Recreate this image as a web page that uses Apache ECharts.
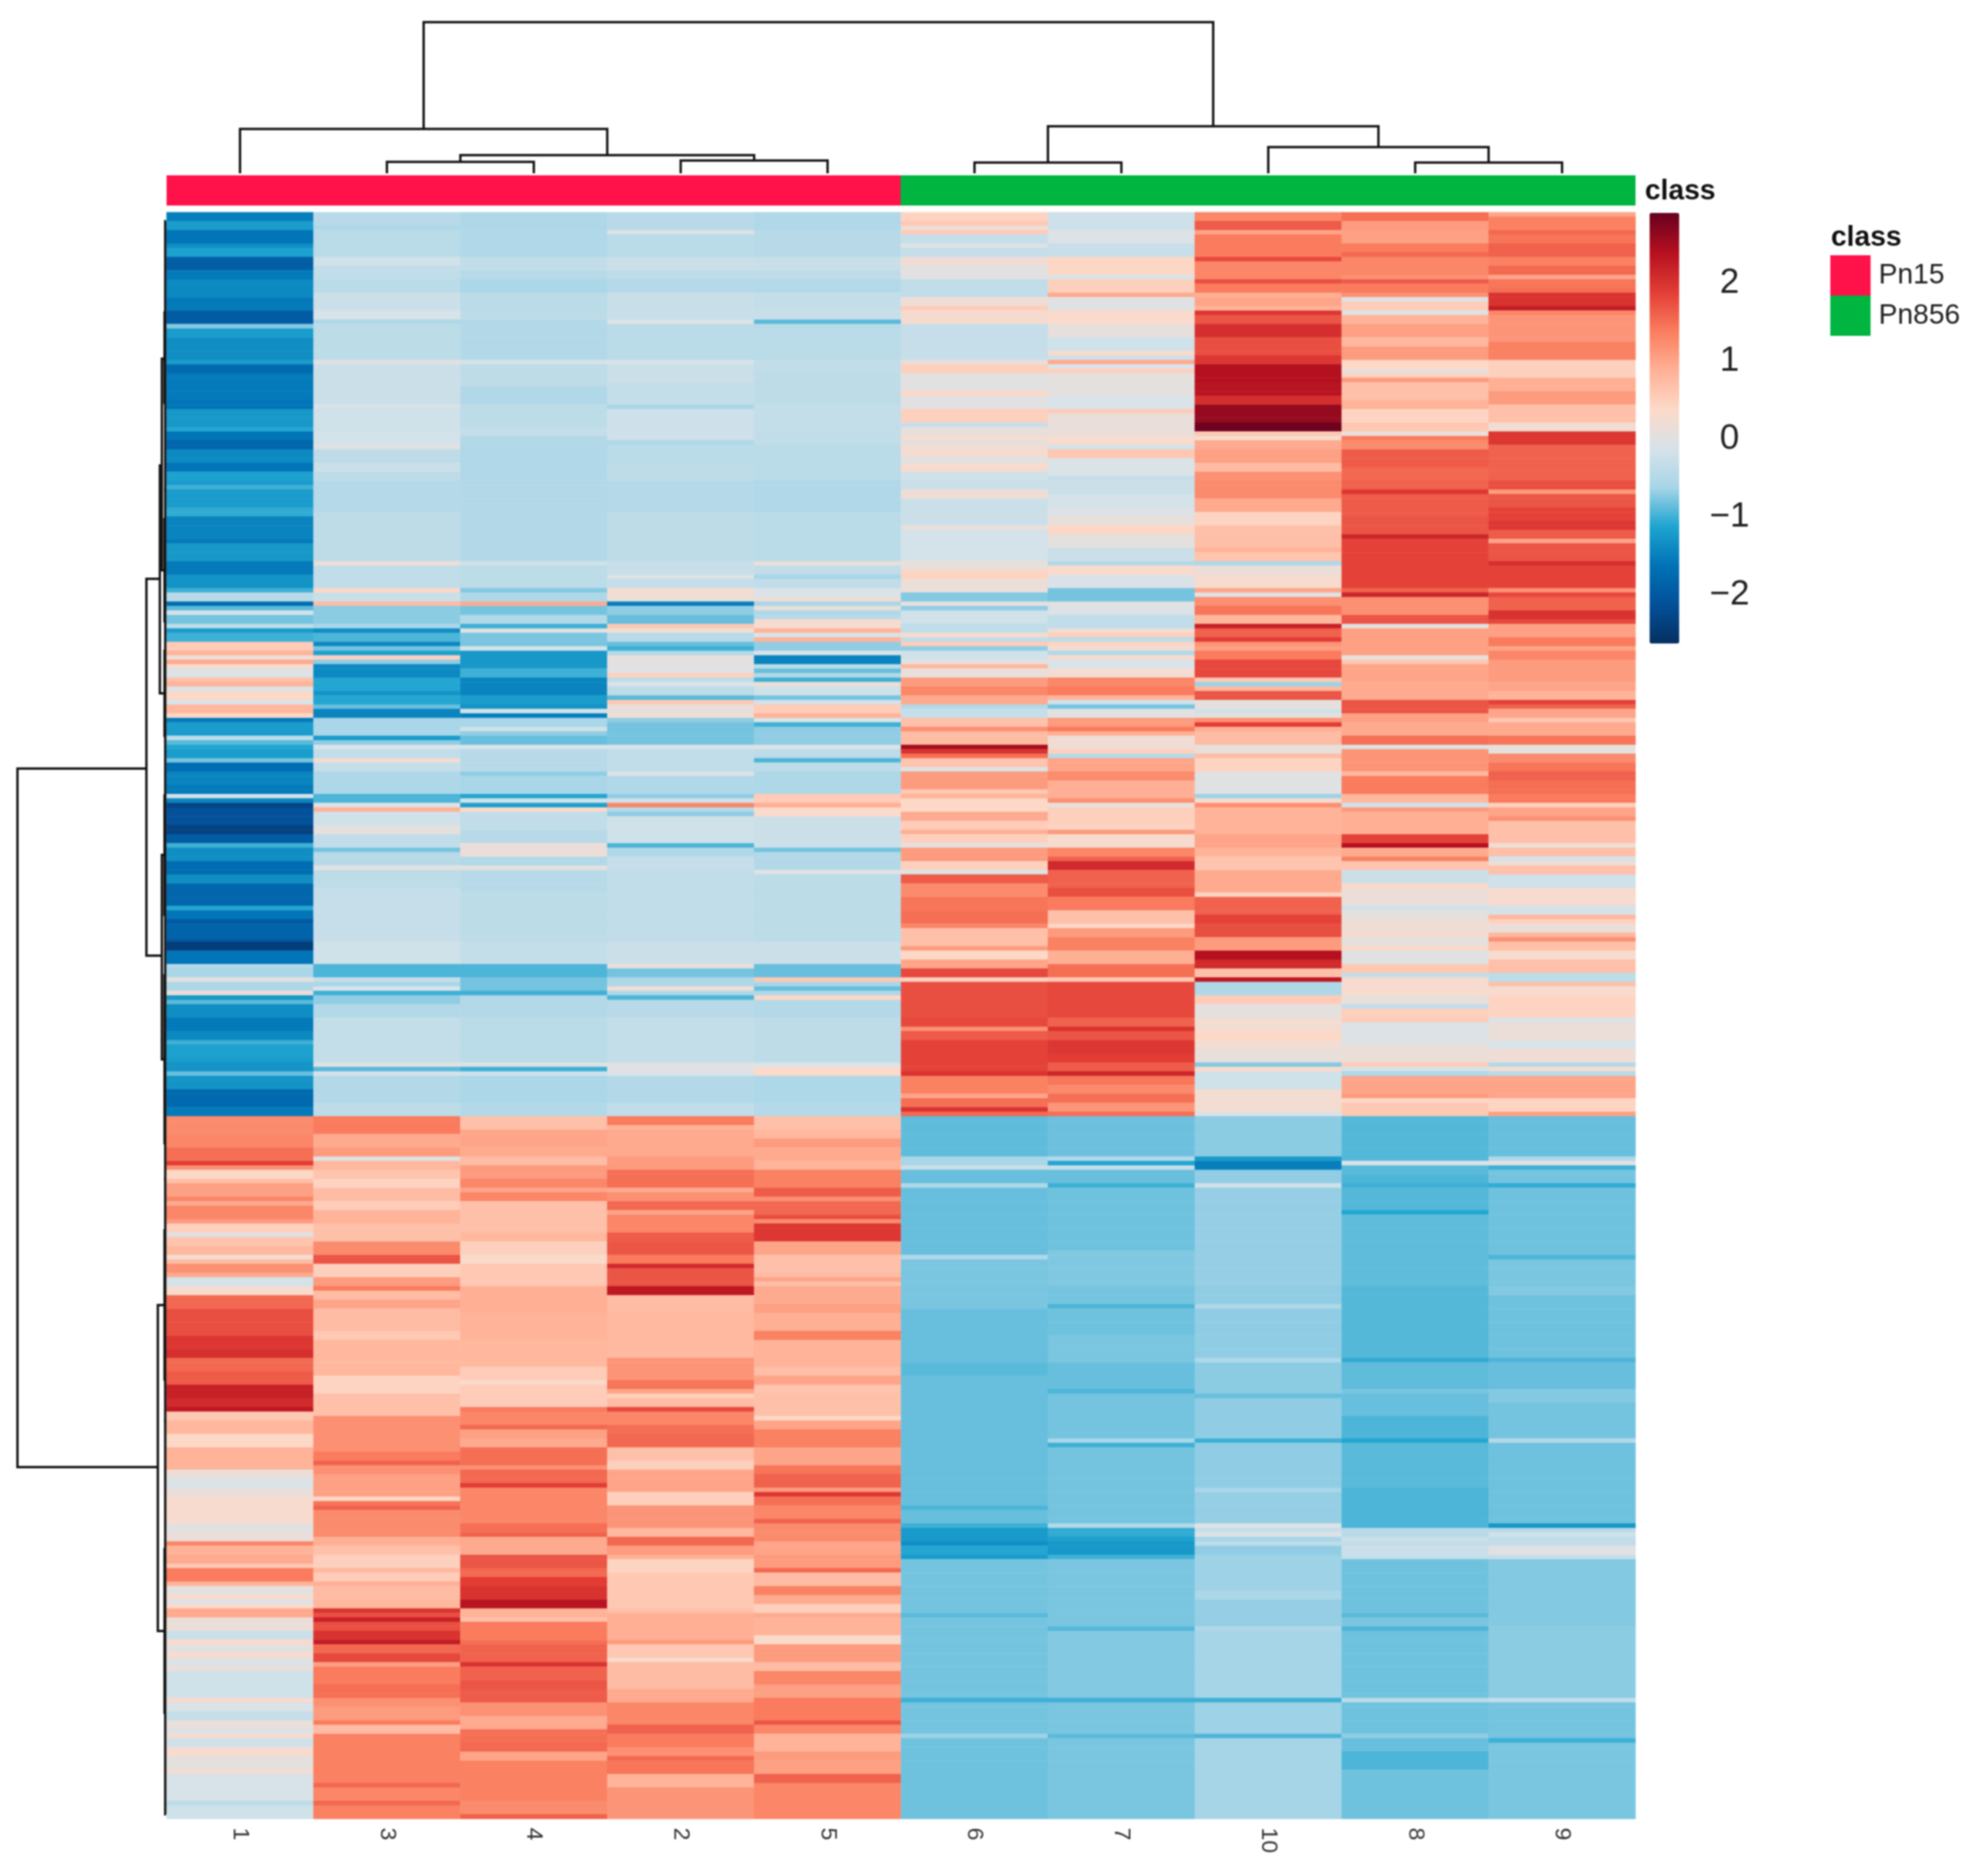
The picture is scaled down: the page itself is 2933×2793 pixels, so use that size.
<!DOCTYPE html>
<html><head><meta charset="utf-8">
<script src="https://cdn.jsdelivr.net/npm/echarts@6/dist/echarts.min.js"></script>
<style>html,body{margin:0;padding:0;background:#fff}#c{width:2933px;height:2793px;filter:blur(1px)}</style>
</head><body><div id="c"></div>
<script>
// Column order and class of each column, as drawn left to right
const columnLabels = ['1','3','4','2','5','6','7','10','8','9'];
const classPn15  = [1,1,1,1,1,null,null,null,null,null];
const classPn856 = [null,null,null,null,null,1,1,1,1,1];
const colorbarTicks = [-2,-1,0,1,2];

// Each column: six blocks of rows; each block is a flat list end-row,value,end-row,value...
const s1 = [
[2,-1.5,4,-1.2,7,-1.6,8,-1.35,10,-1.15,13,-1.9,15,-1.55,19,-1.4,22,-1.55,25,-1.95,26,-.75,28,-1.2,33,-1.35,34,-1.2,36,-1.75,42,-1.55,44,-1.6,48,-1.25,49,-1.1,51,-1.6,53,-1.8,56,-1.4,58,-1.6,60,-1.15],
[1,-1.2,2,-1,6,-1.2,8,-1.05,13,-1.45,14,-1.55,18,-1.25,21,-1.55,24,-1.3,25,-1,27,-.45,28,-1.7,29,-.9,30,-.15,32,-.8,33,-.4,34,-1.2,36,-1,38,.55,39,.85,40,.15,41,.95,42,.3,44,-.05,45,.7,46,.85,47,-.1,49,.4,50,-.1,52,.8,53,.4,54,-1.55,57,-1.2,58,-.4,59,-.9,60,-1.1],
[2,-1.2,3,-.8,5,-1.7,8,-1.45,10,-1.55,11,-.2,12,-1.45,13,-2.3,17,-2.1,19,-2.35,21,-1.95,22,-1,25,-1.35,28,-1.7,30,-1.35,35,-1.8,36,-1.1,38,-1.6,39,-2,42,-1.85,43,-1.95,45,-2.4,48,-1.6,49,-.5,51,-.6,52,.05,54,-.55,55,.15,56,-1.25,57,-.9,60,-1.35],
[3,-1.55,5,-1.4,6,-1,9,-1.15,10,-1.2,12,-1.3,13,-.85,16,-1.3,20,-1.75,22,-1.55,26,1.25,29,1.3,32,1.5,33,1.9,34,1.2,36,.4,37,.7,40,1.05,41,1.3,42,.95,45,1.3,46,1.1,48,.5,49,-.03,51,.65,53,.8,54,.25,55,.75,57,1.2,58,.95,60,-.15],
[2,.3,5,1.55,11,1.75,14,1.95,16,2.05,19,1.55,22,1.65,25,2.2,27,2.1,28,2.3,30,.6,33,.8,36,.4,41,.85,43,.15,45,-.1,47,.1,53,.3,55,.02,57,.15,58,1.3,60,.85],
[2,.95,3,.6,6,1.4,7,.85,9,.05,10,.3,11,-.02,12,.35,14,.95,17,.15,19,-.25,20,.35,22,.05,23,.35,25,-.05,26,.15,32,-.2,33,.3,35,-.1,37,-.3,39,.1,40,-.05,41,.3,43,-.2,45,.3,48,.05,49,.25,55,-.12,56,-.38,60,-.2]];
const s3 = [
[3,-.45,4,-.55,10,-.42,12,-.2,15,-.35,18,-.42,22,-.25,24,-.13,25,-.55,33,-.4,34,0,43,-.25,44,-.08,49,-.2,52,-.15,53,0,56,-.38,58,-.25,60,-.38],
[7,-.48,18,-.38,19,.15,24,-.35,25,.4,27,-.25,28,.75,32,-.72,33,-.6,34,-1.35,36,-.95,37,-1.4,38,-.8,39,-1.15,40,.5,41,-.7,44,-1.4,47,-1.1,48,-1.3,50,-1.1,51,-.85,53,-1.45,57,-.6,58,-1.2,59,-.7,60,-.1],
[2,-.35,3,.25,5,-.3,10,-.55,12,-.95,13,-.05,14,.85,17,-.2,19,.05,22,-.35,23,-.8,26,-.45,27,0,31,-.4,43,-.3,48,-.2,51,-.95,52,-.3,53,-.6,54,-.1,55,-1,57,-.7,60,-.5],
[10,-.32,11,-.02,12,-.9,13,-.15,19,-.5,22,-.4,26,1.4,29,.95,31,1.1,32,0,34,.8,36,.65,38,.45,41,.75,43,.55,46,.85,50,.7,53,1.25,55,1.7,58,.5,60,1.1],
[1,1.4,3,.75,5,1,10,.75,12,.6,20,.8,24,.45,29,.7,37,1.2,39,1.4,40,1.6,42,1.2,47,1.05,48,.4,49,1.45,50,1.6,56,1.25,58,.9,60,.7],
[3,.5,4,.8,6,.55,7,.9,10,.75,12,.8,13,2,14,1.75,15,2.2,17,1.75,19,2,20,2.25,22,1.55,24,1.8,25,1.05,29,1.4,32,1.5,34,1.2,37,1.1,38,1.4,40,.75,51,1.35,52,1.55,55,1.3,56,1.55,60,1.35]];
const s4 = [
[4,-.55,10,-.52,13,-.35,15,-.45,18,-.58,22,-.42,24,-.38,33,-.5,34,-.15,39,-.38,43,-.52,48,-.4,50,-.32,52,-.5,60,-.52],
[18,-.5,19,-.2,24,-.4,25,-.75,27,-.55,28,.95,30,-.8,32,-.5,33,-1,34,0,37,-.78,38,-.15,42,-1.25,44,-1,48,-1.45,50,-1.2,51,-1.3,52,-.2,53,-1.5,55,-.6,56,-.2,57,-.7,59,-.85,60,-.1],
[5,-.45,6,-.7,10,-.6,11,-1.1,12,-.2,13,-1.15,14,.4,18,-.35,21,-.45,22,.15,24,.15,26,-.5,27,.05,32,-.45,43,-.4,48,-.32,51,-.95,54,-.8,55,-1,60,-.5],
[10,-.42,11,-.02,12,-1,13,-.2,19,-.58,22,-.5,25,.7,29,1,31,.95,33,.75,36,1.1,38,1.3,39,1,41,1.3,48,.7,50,.8,53,.5,55,.35,60,.6],
[6,.9,12,.85,18,.8,21,.55,22,.35,27,.55,28,1.4,31,1.3,32,1.55,34,1.05,36,.95,40,1.5,41,1.2,44,1.55,45,1.9,53,1.3,55,1.5,56,1.6,60,.95],
[3,1.7,5,1.55,7,1.9,10,2,12,2.35,14,.85,15,.7,19,1.4,20,1.5,24,1.6,25,2,28,1.6,30,1.7,33,1.65,36,1.2,39,.95,42,1.5,44,1.55,46,1,55,1.35,58,1.25,60,1.6]];
const s2 = [
[4,-.45,5,-.05,10,-.42,13,-.25,15,-.38,18,-.48,24,-.28,25,-.05,33,-.42,34,-.12,38,-.25,43,-.32,44,-.6,51,-.22,52,-.55,56,-.42,60,-.38],
[7,-.48,18,-.38,21,-.28,22,-.05,24,-.3,26,.25,27,.1,28,-1.5,30,-.7,32,-.85,33,.6,34,.2,36,-.45,37,-.85,38,-1,39,-.5,41,.05,43,0,44,.5,45,-.4,46,-.1,48,-.4,49,-.9,50,.6,52,.1,53,.2,54,-.7,59,-.8,60,-.1],
[5,-.35,6,-.05,10,-.52,11,-.7,12,-.2,13,1.3,14,-.5,15,-.7,21,-.2,22,-.95,24,-.55,27,-.3,43,-.35,48,-.25,49,.1,51,-.8,53,-.55,54,.2,55,-.55,56,-.95,60,-.45],
[10,-.32,12,0,13,-.08,19,-.5,22,-.35,24,1.4,25,.85,31,.95,34,1.1,38,1.5,39,.95,41,1.2,43,1.55,44,1,48,1.3,50,1.65,53,1.7,55,1.4,56,2.1,60,1.7],
[2,2.3,6,.75,16,.78,21,1.15,23,1.45,24,1,25,.5,27,.75,28,1.8,31,1.3,33,1.5,36,1.55,39,.7,41,.5,46,1,49,.5,54,1.15,56,.8,58,1.55,60,1.1],
[1,.9,4,.45,12,.6,13,.7,19,.9,20,1.1,23,.6,24,.35,30,.75,33,.95,38,1.3,40,1.6,43,1.4,45,1.2,46,1.55,49,1.45,52,.85,60,1.15]];
const s5 = [
[4,-.52,10,-.45,13,-.28,15,-.38,18,-.5,22,-.32,24,-.28,25,-.9,26,-.45,33,-.42,36,-.35,43,-.38,48,-.33,52,-.35,60,-.42],
[7,-.52,18,-.42,19,.15,21,-.35,22,-.6,24,-.35,26,-.1,27,.2,28,-.6,29,.1,30,-.55,31,-.45,33,.3,34,.85,35,-.1,36,.85,38,-.7,39,-.1,41,-1.45,42,-.4,43,-.85,44,-.5,45,-1,46,.15,48,-.2,49,-.8,50,-.15,52,.55,53,.85,54,-.1,55,-1,59,-.7,60,-.1],
[2,-.4,3,-.95,5,-.4,10,-.55,12,.55,13,.9,15,.35,22,-.25,23,-.8,27,-.5,28,0,43,-.4,48,-.25,51,-.85,52,.6,53,-.6,54,-.85,55,-.55,56,.4,60,-.5],
[10,-.38,11,-.1,13,.35,19,-.55,22,-.48,25,.7,27,.8,29,1.1,32,.95,34,.85,38,1.35,40,1.65,41,1.2,44,1.55,45,1.75,46,1.25,50,1.95,53,1,57,.7,58,.75,59,1,60,.7],
[4,.95,6,1.05,10,.9,12,1.35,18,.85,20,.72,22,1,24,.65,29,.7,30,.4,32,1,36,1.35,40,1,42,1.45,45,1.6,46,1.1,47,1.95,49,1.5,52,1.3,53,1.6,57,1.25,60,1],
[3,1.1,4,1.55,7,.75,9,1.35,11,.95,13,.5,14,.95,18,.85,20,.35,24,1.1,26,.75,29,1.3,32,1.05,37,1.4,38,1.7,40,1.3,44,.85,46,1.1,49,1.05,51,1.6,60,1.3]];
const s6 = [
[2,.45,3,.6,4,.2,5,.55,7,-.3,8,-.05,10,-.3,12,.2,15,.02,19,-.35,21,.2,22,.55,25,.28,33,-.3,34,.1,36,.5,40,.02,41,.4,44,.02,47,.5,48,-.3,50,.08,51,.3,52,.05,55,.25,56,-.05,58,.3,60,-.2],
[2,-.25,4,.2,10,-.25,11,.15,18,-.15,20,.1,22,.45,25,.15,27,-.75,28,.05,29,-.7,32,-.2,34,-.35,35,.3,36,-.35,37,.55,38,-.7,40,-.2,41,.05,42,.8,44,.1,46,1.1,48,1.3,50,.95,51,-.5,53,-.3,55,.7,56,1.2,59,.75,60,2.5],
[1,2,2,1.5,4,.65,5,-.05,9,1.1,10,.6,11,.85,14,.4,16,.95,18,.55,19,.9,21,.5,22,.05,25,1.1,27,.5,28,-.05,30,1.65,33,1.25,36,1.45,39,1.5,40,1.3,44,.7,45,1.1,47,.4,49,1,51,1.8,52,.5,60,1.75],
[2,1.8,3,1.2,5,1.65,12,1.85,13,2,17,1.35,18,1,20,1.5,21,2,22,1.55,31,-.88,33,-.6,34,-.25,37,-.85,38,-.55,44,-.85,53,-.85,54,-.55,60,-.78],
[5,-.78,17,-.85,20,-.9,49,-.85,50,-.95,53,-.85,54,-1,57,-1.22,58,-1.35,60,-1.1],
[1,-1.2,13,-.8,14,-.9,32,-.8,33,-1,40,-.8,41,-.65,60,-.82]];
const s7 = [
[4,-.22,7,-.05,10,-.28,14,.42,15,-.1,18,.5,19,.95,22,0,25,.35,28,.08,31,-.2,32,.35,33,-.2,34,.95,35,-.1,36,.5,41,.05,44,-.1,45,.55,50,.12,52,.3,53,-.15,55,.6,59,-.1,60,-.3],
[3,-.25,6,-.15,8,-.05,10,.1,12,.42,15,.05,18,-.25,19,-.5,21,.35,24,-.08,27,-.8,28,.03,30,-.05,33,-.35,34,.2,35,.5,36,-.4,37,.45,38,.2,39,-.5,40,.3,42,-.1,44,.25,46,1.3,48,1.4,49,.85,50,-.2,51,-.8,53,0,55,1.1,56,1.4,57,.9,60,.2],
[1,.5,2,-.45,5,1,7,1.25,11,.9,12,1.2,13,.1,17,.5,18,.45,19,1.1,22,.3,24,1.3,25,1.6,27,2.1,31,1.6,33,1.75,36,1.4,39,.7,40,.4,42,1.1,45,1.35,48,.9,51,1.5,52,.6,60,1.8],
[2,1.6,3,2,5,1.7,8,1.95,10,1.9,12,1.65,13,2.15,15,1.45,17,1.25,19,1.5,21,1.15,22,1.5,31,-.83,32,-.5,33,-1.1,34,-.3,37,-.85,38,-1,52,-.82,60,-.76],
[4,-.8,5,-.95,11,-.82,17,-.78,23,-.85,24,-.95,34,-.8,35,-.6,36,-1,53,-.8,54,-.5,56,-1.05,57,-1.15,60,-1.25],
[1,-1,16,-.78,17,-.92,32,-.75,33,-1,40,-.78,41,-.9,60,-.78]];
const s10 = [
[2,1.3,4,1.65,5,1,10,1.4,11,1.8,15,1.3,16,1.75,18,1.4,19,.9,21,1,22,.85,23,1.95,25,1.7,28,2.05,32,1.75,34,1.95,38,2.4,41,2.35,43,2.05,47,2.6,49,2.85,50,.6,51,.3,53,.95,56,1.05,58,.75,60,1.2],
[4,1.25,7,.95,10,.45,12,.7,15,.72,16,.85,18,.65,19,-.55,21,.15,24,.3,25,1,26,0,28,1.2,30,1.45,32,.8,33,2.2,35,1.6,36,1.9,37,1.15,38,1.05,40,1.4,42,1.8,44,1.8,45,.6,46,-.65,47,.8,49,1.7,51,.05,52,-.2,53,.05,54,1.2,55,1.9,56,.9,59,.75,60,.1],
[1,.1,2,.75,5,.45,10,0,11,-.65,12,.3,13,1.2,19,.85,22,1,24,.85,27,.65,32,.95,33,.45,37,1.6,39,1.85,42,1.75,45,1.1,47,2.4,49,2.1,51,.7,52,2.3,55,-.55,57,.55,60,.05],
[3,.25,5,.4,7,.25,10,.1,11,-.75,12,.35,16,-.2,21,.25,22,-.03,31,-.72,32,-1.2,34,-1.5,37,-.7,38,-.2,60,-.68],
[4,-.7,5,-.55,16,-.7,17,-.55,24,-.72,25,-.85,34,-.7,35,-1,45,-.7,46,-.6,53,-.68,54,-.05,55,-.3,56,-.05,57,-.6,58,-.4,60,-.7],
[8,-.65,10,-.58,16,-.68,17,-.55,32,-.62,33,-1,40,-.65,41,-.95,60,-.62]];
const s8 = [
[2,1.5,4,1.1,7,1.05,9,1.4,10,1.55,14,1.3,15,1.2,16,1.65,18,1.4,19,1.2,20,-.03,22,.55,23,-.05,25,.85,28,1.05,30,.8,33,1.1,35,.4,36,.1,37,.45,38,1.1,42,.7,44,.85,47,.45,49,.6,50,.1,51,1.4,53,1.25,57,1.65,60,1.55],
[2,1.6,3,1.95,8,1.65,12,1.7,13,2.15,18,1.85,24,1.85,25,1.6,26,2.15,30,1.2,32,1.7,33,.05,39,1.05,40,.1,41,.6,45,1,49,.95,52,1.7,54,1.05,57,.95,59,1.5,60,-.05],
[5,1.15,6,.8,10,1.4,12,.8,13,-.2,14,1.1,19,.9,21,1.85,22,2.4,24,.95,25,1.35,27,.65,30,-.25,31,.4,35,.15,36,-.2,38,.05,41,.2,42,.3,44,.05,45,.4,48,-.02,50,.6,51,-.35,55,.3,57,.1,58,-.35,60,.5],
[1,.55,6,-.05,10,.15,11,.55,12,-.15,13,-.55,17,1,18,1.1,19,.4,22,.6,32,-.92,33,-.1,35,-.9,37,-.95,38,-1,43,-.92,44,-1.1,60,-.88],
[16,-.92,17,-1.05,23,-.88,24,-.78,29,-.85,34,-.95,35,-1.1,45,-.9,54,-.95,56,-.45,57,-.25,58,-.35,60,-.25],
[1,-.3,13,-.82,14,-.9,16,-.78,17,-.95,32,-.82,33,-.42,40,-.82,41,-.7,44,-.85,48,-.95,60,-.82]];
const s9 = [
[1,1,4,1.35,5,1.55,7,1.45,10,1.6,12,1.35,14,1.55,15,1,17,1.45,18,1.5,21,2,22,2.25,23,1.3,29,1.15,33,1.35,37,.5,40,.9,43,1.1,47,.7,49,.22,52,1.95,60,1.6],
[2,1.75,3,1.1,6,1.7,9,1.85,11,1.95,13,1.65,14,1,18,1.7,19,2.05,24,1.85,25,1.2,26,1.8,29,1.6,31,2,32,1.8,35,1.05,37,1.4,38,1,40,1.3,45,1.1,47,1,49,.85,50,1.85,51,1.6,53,1,54,.6,57,.95,59,1.45,60,.1],
[1,.05,3,1.25,5,1.45,7,1.6,10,1.5,12,1.4,13,.5,15,1,16,1.2,21,.7,22,.2,24,.7,25,-.15,26,.2,28,.7,31,-.2,35,.3,37,-.15,38,.8,39,.5,41,.15,42,.8,43,1.2,45,.7,47,.3,50,.7,52,-.4,53,.7,55,.3,60,.45],
[1,-.1,5,.15,7,-.1,10,.2,11,-.5,12,.25,13,-.45,18,1,21,.45,22,1.05,31,-.85,32,-.55,33,.02,34,-1,37,-.8,38,-1.05,53,-.82,54,-.95,60,-.78],
[2,-.75,16,-.82,17,-.95,23,-.85,26,-.75,34,-.8,35,-.5,53,-.82,54,-1.25,55,-.45,56,-.2,58,-.35,60,-.02],
[1,-.3,16,-.75,32,-.72,33,-.35,41,-.8,42,-1,60,-.78]];
const columns = [s1,s3,s4,s2,s5,s6,s7,s10,s8,s9];
const blockRows = [60,60,60,60,60,59];

// Dendrograms: branchA position, branchA height, branchB position, branchB height, merge height
const topTree = [
 [1.5,0,2.5,0,17],[3.5,0,4.5,0,19],[2,17,4,19,27],[.5,0,3,27,66],
 [5.5,0,6.5,0,16],[8.5,0,9.5,0,16],[7.5,0,9,16,39],[6,16,8.25,39,70],[1.75,66,7.125,70,225]];
const leftTree = [
 [124.3,29,280.4,12,221],[81.9,9,166.1,6,29],[56.6,6,107.5,2,9],[32.7,2,80,2,6],
 [22.4,1,42.6,1,2],[68.6,0,91.4,0,2],[98,0,117,0,2],[143.6,2,189.3,2,6],
 [130.3,0,157,0,2],[170.5,0,208,0,2],[244.2,2,317,2,12],[227.5,0,260.8,0,2],[298.7,0,335.3,0,2],
 [2,0,30,0,1],[30,0,62,0,1],[62,0,100,0,1],[100,0,135,0,1],[135,0,175,0,1],
 [175,0,216,0,1],[216,0,270,0,1],[270,0,320,0,1],[320,0,358,0,1]];

const palette = ['#053061','#03509A','#0073B7','#1FA5D0','#A8D6E8','#D8E3E9','#FDD9C8','#FFB095','#FA7C5D','#E23C35','#B5101F','#67001F'];
const rowCount = blockRows.reduce((a,b)=>a+b,0);

function expandColumn(blocks){
  const out=[];
  blocks.forEach((flat,b)=>{
    const n=blockRows[b]; let row=0, last=0;
    for(let i=0;i<flat.length;i+=2){
      const end=Math.min(flat[i],n); last=flat[i+1];
      while(row<end){out.push(last);row++;}
    }
    while(row<n){out.push(last);row++;}
  });
  return out;
}
const heatData=[];
columns.forEach((c,x)=>expandColumn(c).forEach((v,y)=>heatData.push([x,y,v])));
const rowCats=Array.from({length:rowCount},(_,i)=>String(i));

const TEXT='"Liberation Sans",Arial,sans-serif';
function treeSeries(data,gridIdx,horizontal){
  return {type:'custom',xAxisIndex:gridIdx,yAxisIndex:gridIdx,clip:false,silent:true,data,
    renderItem(p,api){
      const a=api.value(0),ha=api.value(1),b=api.value(2),hb=api.value(3),h=api.value(4);
      const raw=[[a,ha],[a,h],[b,h],[b,hb]];
      const pts=raw.map(q=>api.coord(horizontal?q:[q[1],q[0]]));
      return {type:'polyline',shape:{points:pts},style:{stroke:'#111',lineWidth:3.5,fill:null}};
    }};
}
const hiddenVal=(o)=>Object.assign({type:'value',show:false,splitLine:{show:false}},o);

const chart=echarts.init(document.getElementById('c'),null,{renderer:'canvas',width:2933,height:2793});
chart.setOption({
  animation:false,backgroundColor:'#fff',
  title:[
   {text:'class',left:2449,top:264,padding:0,textStyle:{fontFamily:TEXT,fontSize:42,fontWeight:'bold',color:'#111'}},
   {text:'class',left:2726,top:333,padding:0,textStyle:{fontFamily:TEXT,fontSize:42,fontWeight:'bold',color:'#111'}}
  ],
  legend:{data:[{name:'Pn15',icon:'rect'},{name:'Pn856',icon:'rect'}],orient:'vertical',left:2725,top:380,padding:0,
    itemWidth:60,itemHeight:60,itemGap:0,selectedMode:false,
    textStyle:{fontFamily:TEXT,fontSize:42,color:'#222',padding:[3,0,0,7]}},
  grid:[
   {left:248,top:316,width:2187,height:2392,containLabel:false},
   {left:248,top:261,width:2187,height:45},
   {left:248,top:33,width:2187,height:225},
   {left:26,top:316,width:221,height:2392},
   {left:2456,top:317,width:44,height:641}
  ],
  xAxis:[
   {type:'category',gridIndex:0,data:columnLabels,position:'bottom',axisLine:{show:false},axisTick:{show:false},splitLine:{show:false},
    axisLabel:{interval:0,rotate:-90,margin:13,fontSize:34,fontFamily:TEXT,color:'#333'}},
   {type:'category',gridIndex:1,data:columnLabels,show:false},
   hiddenVal({gridIndex:2,min:0,max:10}),
   hiddenVal({gridIndex:3,min:0,max:221,inverse:true}),
   hiddenVal({gridIndex:4,min:0,max:1})
  ],
  yAxis:[
   {type:'category',gridIndex:0,data:rowCats,inverse:true,show:false},
   hiddenVal({gridIndex:1,min:0,max:1}),
   hiddenVal({gridIndex:2,min:0,max:225}),
   hiddenVal({gridIndex:3,min:0,max:rowCount,inverse:true}),
   {type:'value',gridIndex:4,min:-2.62,max:2.9,position:'right',splitLine:{show:false},axisLine:{show:false},
    axisTick:{show:false},
    axisLabel:{customValues:colorbarTicks,margin:75,align:'center',fontSize:52,fontFamily:TEXT,color:'#222',
      showMinLabel:true,showMaxLabel:true,
      formatter:v=>v<0?'\u2212'+Math.abs(v):String(v)}}
  ],
  visualMap:{type:'continuous',seriesIndex:0,min:-2.62,max:2.9,calculable:false,hoverLink:false,
    left:2456,top:317,itemWidth:44,itemHeight:641,padding:0,text:null,inRange:{color:palette}},
  series:[
   {type:'heatmap',xAxisIndex:0,yAxisIndex:0,data:heatData,progressive:0,silent:true,itemStyle:{borderWidth:0},emphasis:{disabled:true}},
   {type:'bar',name:'Pn15',xAxisIndex:1,yAxisIndex:1,data:classPn15,barWidth:220,barGap:'-100%',silent:true,itemStyle:{color:'#FF1249'}},
   {type:'bar',name:'Pn856',xAxisIndex:1,yAxisIndex:1,data:classPn856,barWidth:220,barGap:'-100%',silent:true,itemStyle:{color:'#00B540'}},
   treeSeries(topTree,2,true),
   treeSeries(leftTree,3,false)
  ]
});
</script></body></html>
